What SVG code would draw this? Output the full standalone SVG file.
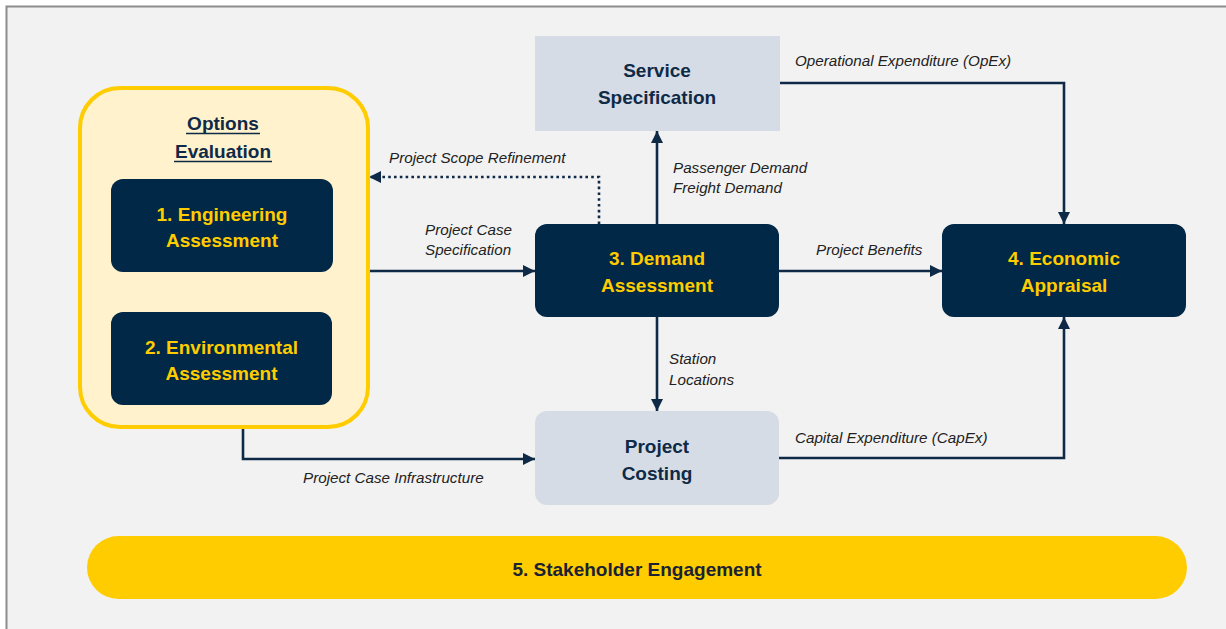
<svg xmlns="http://www.w3.org/2000/svg" width="1226" height="629" viewBox="0 0 1226 629">
  <style>
    .conn{fill:none;stroke:#0F2A47;stroke-width:2.6}
    .dotted{stroke-dasharray:2.6 3.2}
    .lbl{font-family:"Liberation Sans",Arial,sans-serif;font-style:italic;font-size:15.2px;fill:#222222}
    .ttl{font-family:"Liberation Sans",Arial,sans-serif;font-weight:bold;font-size:19px;text-anchor:middle}
    .dark{fill:#012846}
    .light{fill:#D6DCE5}
    .yel{fill:#FFCC00}
    .navytxt{fill:#0F2A47}
  </style>
  <defs>
    <marker id="arrow" viewBox="0 0 12 12" refX="12" refY="6" markerWidth="12" markerHeight="12" markerUnits="userSpaceOnUse" orient="auto">
      <path d="M0,0 L12,6 L0,12 Z" fill="#0F2A47"/>
    </marker>
  </defs>

  <!-- canvas and frame -->
  <rect x="0" y="0" width="1226" height="629" fill="#FFFFFF"/>
  <rect x="6.5" y="6.5" width="1240" height="640" fill="#F2F2F2" stroke="#8C8C8C" stroke-width="2"/>

  <!-- connectors -->
  <g id="connectors">
    <path class="conn" d="M368,271 H535" marker-end="url(#arrow)"/>
    <path class="conn dotted" d="M599,224 V177 H369" marker-end="url(#arrow)"/>
    <path class="conn" d="M657,224 V131" marker-end="url(#arrow)"/>
    <path class="conn" d="M780,83 H1064 V224" marker-end="url(#arrow)"/>
    <path class="conn" d="M779,271 H942" marker-end="url(#arrow)"/>
    <path class="conn" d="M657,317 V411" marker-end="url(#arrow)"/>
    <path class="conn" d="M243,427 V459 H535" marker-end="url(#arrow)"/>
    <path class="conn" d="M779,458 H1064 V317" marker-end="url(#arrow)"/>

    <text class="lbl" x="389" y="163">Project Scope Refinement</text>
    <text class="lbl" x="425" y="235">Project Case</text>
    <text class="lbl" x="425" y="255">Specification</text>
    <text class="lbl" x="673" y="173">Passenger Demand</text>
    <text class="lbl" x="673" y="193">Freight Demand</text>
    <text class="lbl" x="795" y="66">Operational Expenditure (OpEx)</text>
    <text class="lbl" x="816" y="255">Project Benefits</text>
    <text class="lbl" x="669" y="364">Station</text>
    <text class="lbl" x="669" y="385">Locations</text>
    <text class="lbl" x="303" y="483">Project Case Infrastructure</text>
    <text class="lbl" x="795" y="443">Capital Expenditure (CapEx)</text>
  </g>

  <!-- options evaluation container -->
  <g id="options-evaluation">
    <rect x="80" y="88" width="288" height="339" rx="40" fill="#FFF2CC" stroke="#FFCC00" stroke-width="4"/>
    <text class="ttl navytxt" x="223" y="130">Options</text>
    <text class="ttl navytxt" x="223" y="158">Evaluation</text>
    <line x1="186" y1="133.5" x2="260" y2="133.5" stroke="#0F2A47" stroke-width="1.6"/>
    <line x1="174" y1="161.5" x2="272" y2="161.5" stroke="#0F2A47" stroke-width="1.6"/>
  </g>

  <g id="engineering-assessment">
    <rect class="dark" x="111" y="179" width="222" height="93" rx="12"/>
    <text class="ttl yel" x="222" y="221">1. Engineering</text>
    <text class="ttl yel" x="222" y="247">Assessment</text>
  </g>

  <g id="environmental-assessment">
    <rect class="dark" x="111" y="312" width="221" height="93" rx="12"/>
    <text class="ttl yel" x="221.5" y="354">2. Environmental</text>
    <text class="ttl yel" x="221.5" y="380">Assessment</text>
  </g>

  <g id="service-specification">
    <rect class="light" x="535" y="36" width="245" height="95"/>
    <text class="ttl navytxt" x="657" y="77">Service</text>
    <text class="ttl navytxt" x="657" y="104">Specification</text>
  </g>

  <g id="demand-assessment">
    <rect class="dark" x="535" y="224" width="244" height="93" rx="12"/>
    <text class="ttl yel" x="657" y="265">3. Demand</text>
    <text class="ttl yel" x="657" y="292">Assessment</text>
  </g>

  <g id="economic-appraisal">
    <rect class="dark" x="942" y="224" width="244" height="93" rx="12"/>
    <text class="ttl yel" x="1064" y="265">4. Economic</text>
    <text class="ttl yel" x="1064" y="292">Appraisal</text>
  </g>

  <g id="project-costing">
    <rect class="light" x="535" y="411" width="244" height="94" rx="12"/>
    <text class="ttl navytxt" x="657" y="453">Project</text>
    <text class="ttl navytxt" x="657" y="480">Costing</text>
  </g>

  <g id="stakeholder-engagement">
    <rect x="87" y="536" width="1100" height="63" rx="31.5" fill="#FFCC00"/>
    <text class="ttl" x="637" y="576" fill="#1A2233">5. Stakeholder Engagement</text>
  </g>
</svg>
